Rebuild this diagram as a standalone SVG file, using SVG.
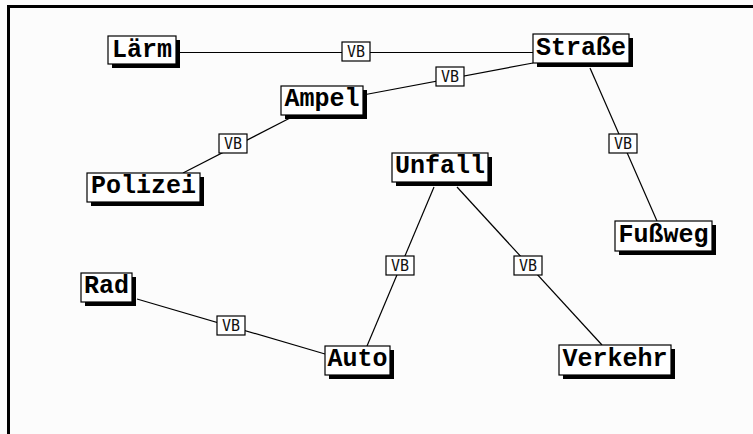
<svg xmlns="http://www.w3.org/2000/svg" width="753" height="434" viewBox="0 0 753 434">
<style>
.bg{fill:#fcfcfc}
.frame{fill:#000}
.sh{fill:#000}
.box{fill:#fff;stroke:#000;stroke-width:1.2}
.t{font-family:"Liberation Mono","DejaVu Sans Mono",monospace;font-weight:bold;font-size:25px;fill:#000;text-anchor:middle}
.c line{stroke:#000;stroke-width:1.2}
.vb rect{fill:#fff;stroke:#000;stroke-width:1.2}
.vb text{font-family:"DejaVu Sans Mono","Liberation Mono",monospace;font-size:15px;fill:#111;text-anchor:middle}
</style>
<rect class="bg" x="0" y="0" width="753" height="434"/>
<rect class="frame" x="7" y="5" width="746" height="3"/>
<rect class="frame" x="7" y="5" width="3" height="429"/>
<g id="connectors" class="c">
<line x1="176" y1="52.5" x2="533" y2="52.5"/>
<line x1="533" y1="63" x2="363" y2="95"/>
<line x1="290" y1="118" x2="183" y2="173"/>
<line x1="590" y1="68" x2="657" y2="221"/>
<line x1="434" y1="187" x2="367" y2="346"/>
<line x1="457" y1="187" x2="602" y2="345"/>
<line x1="137" y1="299" x2="325" y2="354"/>
<g class="vb"><rect x="342" y="42" width="28" height="19"/><text x="356" y="57">VB</text></g>
<g class="vb"><rect x="436" y="67" width="28" height="19"/><text x="450" y="82">VB</text></g>
<g class="vb"><rect x="219" y="134" width="28" height="19"/><text x="233" y="149">VB</text></g>
<g class="vb"><rect x="609" y="134" width="28" height="19"/><text x="623" y="149">VB</text></g>
<g class="vb"><rect x="386" y="256" width="28" height="19"/><text x="400" y="271">VB</text></g>
<g class="vb"><rect x="514" y="256" width="28" height="19"/><text x="528" y="271">VB</text></g>
<g class="vb"><rect x="217" y="316" width="28" height="19"/><text x="231" y="331">VB</text></g>
</g>
<g id="laerm"><rect class="sh" x="112" y="40" width="68" height="28"/><rect class="box" x="108" y="36" width="68" height="28"/><text class="t" x="142" y="57">Lärm</text></g>
<g id="strasse"><rect class="sh" x="537" y="38" width="96" height="29"/><rect class="box" x="533" y="34" width="96" height="29"/><text class="t" x="581" y="55">Straße</text></g>
<g id="ampel"><rect class="sh" x="285" y="90" width="82" height="29"/><rect class="box" x="281" y="86" width="82" height="29"/><text class="t" x="322" y="106">Ampel</text></g>
<g id="polizei"><rect class="sh" x="91" y="177" width="113" height="29"/><rect class="box" x="87" y="173" width="113" height="29"/><text class="t" x="143.5" y="193">Polizei</text></g>
<g id="unfall"><rect class="sh" x="396" y="157" width="96" height="29"/><rect class="box" x="392" y="153" width="96" height="29"/><text class="t" x="440" y="173">Unfall</text></g>
<g id="fussweg"><rect class="sh" x="619" y="225" width="97" height="30"/><rect class="box" x="615" y="221" width="97" height="30"/><text class="t" x="663.5" y="242">Fußweg</text></g>
<g id="rad"><rect class="sh" x="85" y="277" width="51" height="29"/><rect class="box" x="81" y="273" width="51" height="29"/><text class="t" x="106.5" y="293">Rad</text></g>
<g id="auto"><rect class="sh" x="329" y="350" width="65" height="29"/><rect class="box" x="325" y="346" width="65" height="29"/><text class="t" x="357.5" y="366">Auto</text></g>
<g id="verkehr"><rect class="sh" x="563" y="349" width="112" height="30"/><rect class="box" x="559" y="345" width="112" height="30"/><text class="t" x="615" y="366">Verkehr</text></g>
</svg>
